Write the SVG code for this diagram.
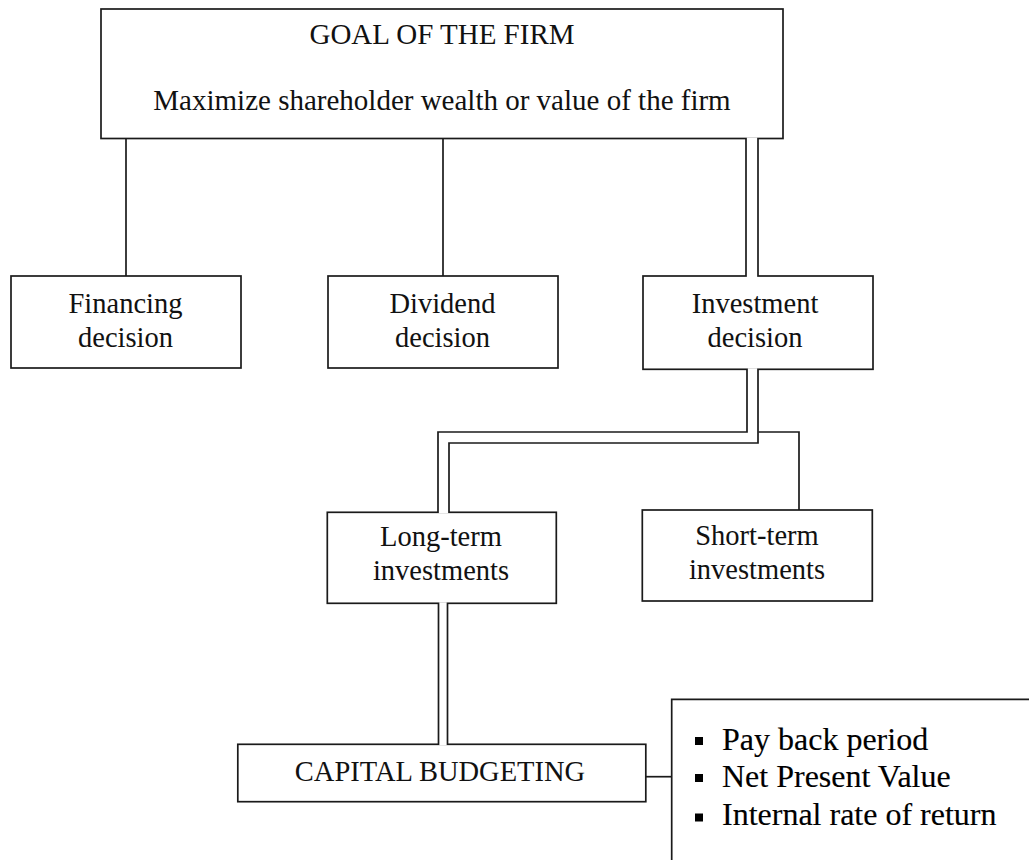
<svg xmlns="http://www.w3.org/2000/svg" width="1029" height="860" viewBox="0 0 1029 860">
<style>
.box{fill:#fff;stroke:#1a1a1a;stroke-width:1.7}
.t{font-family:"Liberation Serif","Times New Roman",serif;font-size:28.5px;fill:#111;text-anchor:middle}
.tt{font-family:"Liberation Serif","Times New Roman",serif;font-size:29px;fill:#111;text-anchor:middle}
.b{font-family:"Liberation Serif","Times New Roman",serif;font-size:32px;fill:#000;stroke:#000;stroke-width:0.15}
.ln{fill:none;stroke:#1a1a1a;stroke-width:1.7}
.po{fill:none;stroke:#1a1a1a;stroke-linecap:butt;stroke-linejoin:miter}
.pi{fill:none;stroke:#fff;stroke-linecap:butt;stroke-linejoin:miter}
</style>
<rect width="1029" height="860" fill="#fff"/>
<g id="goal">
<rect class="box" x="101" y="9" width="682" height="129.5"/>
<text class="tt" x="442" y="44">GOAL OF THE FIRM</text>
<text class="tt" x="442" y="110">Maximize shareholder wealth or value of the firm</text>
</g>
<g id="financing">
<rect class="box" x="11" y="276" width="230" height="92"/>
<text class="t" x="125.5" y="313">Financing</text>
<text class="t" x="125.5" y="347">decision</text>
</g>
<g id="dividend">
<rect class="box" x="328" y="276" width="230" height="92"/>
<text class="t" x="442.5" y="313">Dividend</text>
<text class="t" x="442.5" y="347">decision</text>
</g>
<g id="investment">
<rect class="box" x="643" y="276" width="230" height="93.3"/>
<text class="t" x="755" y="313">Investment</text>
<text class="t" x="755" y="347">decision</text>
</g>
<g id="longterm">
<rect class="box" x="327.3" y="512.3" width="229" height="91"/>
<text class="t" x="441" y="546">Long-term</text>
<text class="t" x="441" y="580">investments</text>
</g>
<g id="shortterm">
<rect class="box" x="642.3" y="510" width="230" height="91"/>
<text class="t" x="757" y="545">Short-term</text>
<text class="t" x="757" y="579">investments</text>
</g>
<g id="capital">
<rect class="box" x="237.8" y="744.3" width="408" height="57.4"/>
<text class="t" x="440" y="781">CAPITAL BUDGETING</text>
</g>
<g id="methods">
<path class="ln" d="M1029,699.3 H671.7 V860"/>
<rect x="695" y="737" width="8" height="8" fill="#000"/>
<rect x="695" y="774" width="8" height="8" fill="#000"/>
<rect x="695" y="813.5" width="8" height="8" fill="#000"/>
<text class="b" x="722" y="750">Pay back period</text>
<text class="b" x="722" y="787">Net Present Value</text>
<text class="b" x="722" y="825">Internal rate of return</text>
</g>
<g id="connectors">
<path class="ln" d="M126,138.5 V276"/>
<path class="ln" d="M443,138.5 V276"/>
<path class="po" stroke-width="13.7" d="M752,138.5 V276"/>
<path class="pi" stroke-width="10.3" d="M752,137.5 V277"/>
<path class="po" stroke-width="12.7" d="M752.5,369.3 V437.5 H443.5 V512.3"/>
<path class="pi" stroke-width="9.3" d="M752.5,368.3 V437.5 H443.5 V513.3"/>
<path class="ln" d="M758.5,432 H799 V510"/>
<path class="po" stroke-width="10.7" d="M443,603.3 V744.3"/>
<path class="pi" stroke-width="7.3" d="M443,602.3 V745.3"/>
<path class="ln" d="M645.7,776.7 H671.7"/>
</g>
</svg>
